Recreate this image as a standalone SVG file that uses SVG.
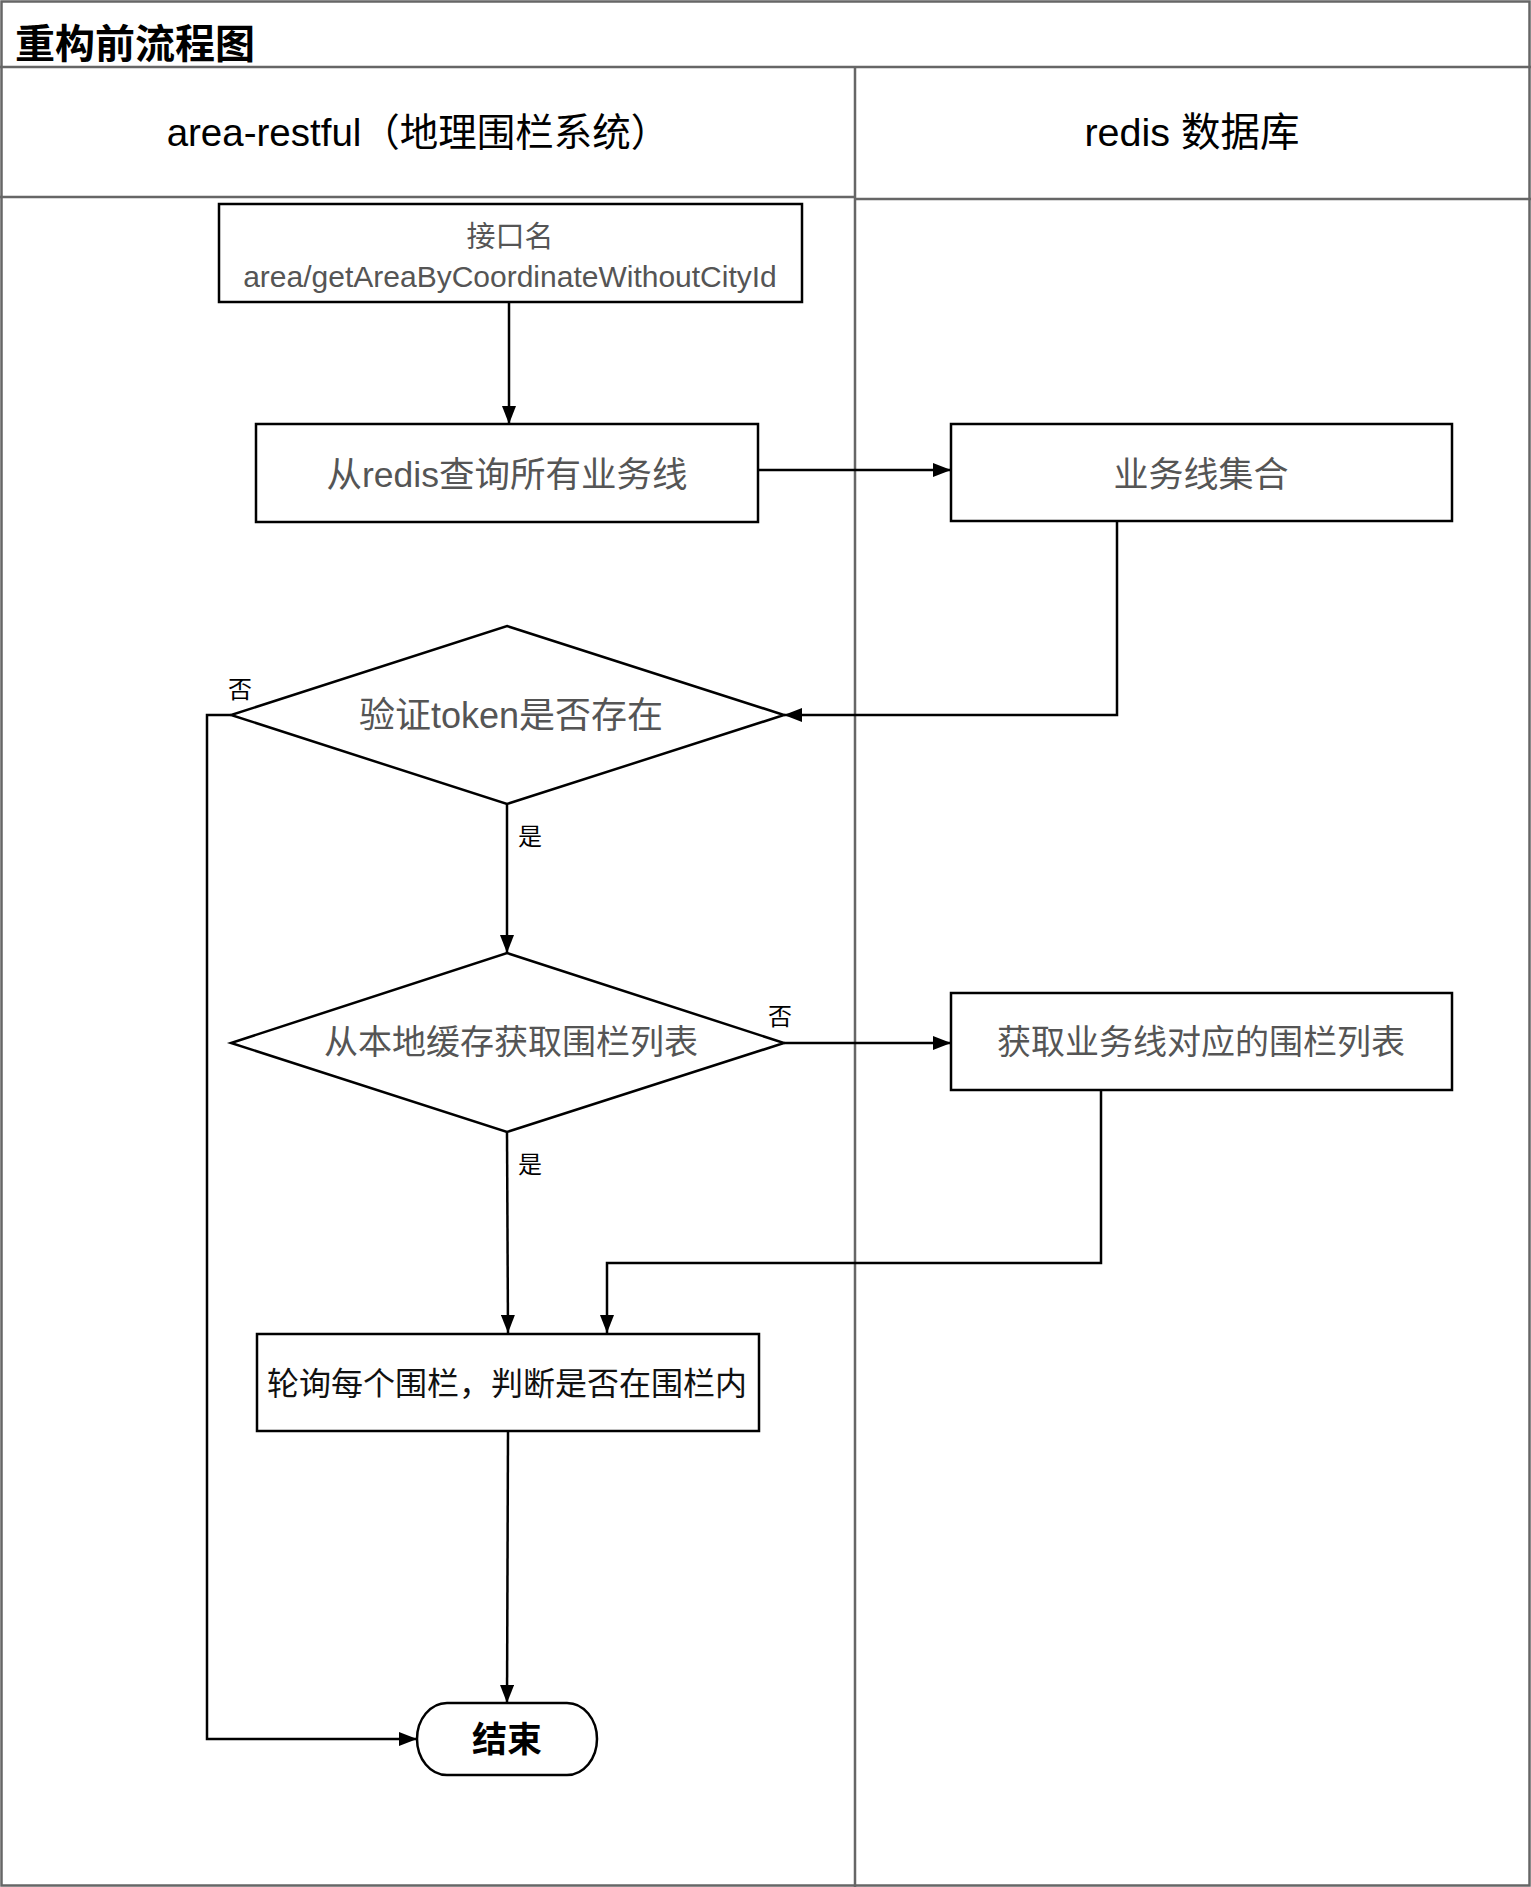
<svg xmlns="http://www.w3.org/2000/svg" width="1531" height="1887" viewBox="0 0 1531 1887">
<style>
text{font-family:"Liberation Sans","Noto Sans CJK SC",sans-serif;}
.lane{fill:none;stroke:#666;stroke-width:2.5;}
.node{fill:#fff;stroke:#000;stroke-width:2.5;}
.edge{fill:none;stroke:#000;stroke-width:2.5;}
.hdr{font-size:38.5px;fill:#000;text-anchor:middle;}
.lbl{font-size:34px;fill:#555;text-anchor:middle;}
.small{font-size:24px;fill:#000;text-anchor:middle;}
</style>
<defs>
<marker id="arr" markerUnits="userSpaceOnUse" markerWidth="18" markerHeight="14" refX="18" refY="7" orient="auto">
<path d="M0,0 L18,7 L0,14 z" fill="#000"/>
</marker>
</defs>
<rect width="1531" height="1887" fill="#fff"/>
<g id="pool">
<rect class="lane" x="1.5" y="1.5" width="1528" height="1884"/>
<line class="lane" x1="0" y1="67" x2="1531" y2="67"/>
<line class="lane" x1="855" y1="67" x2="855" y2="1887"/>
<line class="lane" x1="0" y1="197" x2="855" y2="197"/>
<line class="lane" x1="855" y1="199" x2="1531" y2="199"/>
<text x="15" y="58" style="font-size:40px;font-weight:bold;fill:#000;">重构前流程图</text>
<text class="hdr" x="418" y="146">area-restful（地理围栏系统）</text>
<text class="hdr" x="1192" y="146" style="font-size:39.5px;">redis 数据库</text>
</g>
<g id="connectors">
<line class="edge" x1="509" y1="302" x2="509" y2="424" marker-end="url(#arr)"/>
<line class="edge" x1="758" y1="470" x2="951" y2="470" marker-end="url(#arr)"/>
<polyline class="edge" points="1117,521 1117,715 784,715" marker-end="url(#arr)"/>
<polyline class="edge" points="231,715 207,715 207,1739 417,1739" marker-end="url(#arr)"/>
<line class="edge" x1="507" y1="804" x2="507" y2="953" marker-end="url(#arr)"/>
<line class="edge" x1="784" y1="1043" x2="951" y2="1043" marker-end="url(#arr)"/>
<polyline class="edge" points="1101,1090 1101,1263 607,1263 607,1333" marker-end="url(#arr)"/>
<line class="edge" x1="507" y1="1132" x2="508" y2="1333" marker-end="url(#arr)"/>
<line class="edge" x1="508" y1="1431" x2="507" y2="1703" marker-end="url(#arr)"/>
<text class="small" x="240" y="698">否</text>
<text class="small" x="530" y="845">是</text>
<text class="small" x="780" y="1025">否</text>
<text class="small" x="530" y="1173">是</text>
</g>
<g id="n1">
<rect class="node" x="219" y="204" width="583" height="98"/>
<text x="510" y="247" style="font-size:29px;fill:#555;text-anchor:middle;">接口名</text>
<text x="510" y="287" style="font-size:30px;fill:#555;text-anchor:middle;">area/getAreaByCoordinateWithoutCityId</text>
</g>
<g id="n2">
<rect class="node" x="256" y="424" width="502" height="98"/>
<text class="lbl" x="507" y="487" style="font-size:35.5px;">从redis查询所有业务线</text>
</g>
<g id="n3">
<rect class="node" x="951" y="424" width="501" height="97"/>
<text class="lbl" x="1201" y="487" style="font-size:35px;">业务线集合</text>
</g>
<g id="n4">
<polygon class="node" points="507,626 784,715 507,804 231,715"/>
<text class="lbl" x="511" y="728" style="font-size:36px;">验证token是否存在</text>
</g>
<g id="n5">
<polygon class="node" points="507,953 784,1043 507,1132 231,1043"/>
<text class="lbl" x="511" y="1054">从本地缓存获取围栏列表</text>
</g>
<g id="n6">
<rect class="node" x="951" y="993" width="501" height="97"/>
<text class="lbl" x="1201" y="1054">获取业务线对应的围栏列表</text>
</g>
<g id="n7">
<rect class="node" x="257" y="1334" width="502" height="97"/>
<text x="507" y="1395" style="font-size:32px;fill:#111;text-anchor:middle;">轮询每个围栏，判断是否在围栏内</text>
</g>
<g id="n8">
<rect class="node" x="417" y="1703" width="180" height="72" rx="30" ry="36"/>
<text x="507" y="1752" style="font-size:35px;font-weight:bold;fill:#000;text-anchor:middle;">结束</text>
</g>
</svg>
